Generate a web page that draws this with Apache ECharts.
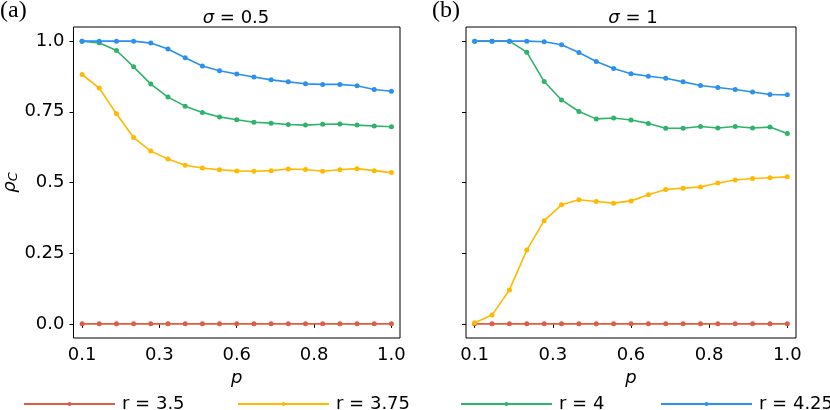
<!DOCTYPE html>
<html>
<head>
<meta charset="utf-8">
<script src="https://cdn.jsdelivr.net/npm/echarts@6/dist/echarts.min.js"></script>
<style>
  html, body { margin: 0; padding: 0; background: #fff; }
  #chart { width: 830px; height: 410px; }
</style>
</head>
<body>
<div id="chart"></div>
<script>
// p values (x)
var pVals = [0.10, 0.15, 0.20, 0.25, 0.30, 0.35, 0.40, 0.45, 0.50, 0.55,
             0.60, 0.65, 0.70, 0.75, 0.80, 0.85, 0.90, 0.95, 1.00];

// panel (a): sigma = 0.5
var aR350 = [0, 0, 0, 0, 0, 0, 0, 0, 0, 0, 0, 0, 0, 0, 0, 0, 0, 0, 0];
var aR375 = [0.882, 0.834, 0.743, 0.659, 0.611, 0.583, 0.561, 0.551, 0.545, 0.541,
             0.540, 0.542, 0.548, 0.546, 0.540, 0.545, 0.549, 0.542, 0.535];
var aR400 = [1.000, 0.994, 0.967, 0.909, 0.848, 0.802, 0.770, 0.748, 0.732, 0.722,
             0.713, 0.710, 0.705, 0.703, 0.706, 0.707, 0.703, 0.700, 0.697];
var aR425 = [1.000, 1.000, 1.000, 1.000, 0.993, 0.972, 0.941, 0.912, 0.895, 0.884,
             0.873, 0.863, 0.856, 0.849, 0.847, 0.847, 0.842, 0.829, 0.823];

// panel (b): sigma = 1
var bR350 = [0, 0, 0, 0, 0, 0, 0, 0, 0, 0, 0, 0, 0, 0, 0, 0, 0, 0, 0];
var bR375 = [0.004, 0.031, 0.120, 0.261, 0.365, 0.421, 0.439, 0.433, 0.427, 0.435,
             0.457, 0.475, 0.480, 0.484, 0.498, 0.509, 0.514, 0.517, 0.520];
var bR400 = [1.000, 1.000, 1.000, 0.961, 0.857, 0.792, 0.751, 0.725, 0.728, 0.721,
             0.709, 0.692, 0.692, 0.698, 0.693, 0.698, 0.693, 0.696, 0.673];
var bR425 = [1.000, 1.000, 1.000, 1.000, 0.998, 0.987, 0.960, 0.928, 0.903, 0.885,
             0.876, 0.869, 0.856, 0.843, 0.836, 0.829, 0.820, 0.811, 0.810];

var seriesNames = ['r = 3.5', 'r = 3.75', 'r = 4', 'r = 4.25'];
var seriesColors = ['#e15b45', '#ffb900', '#2db36b', '#2b90f0'];

var xTickVals = [0.1, 0.325, 0.55, 0.775, 1.0];
var xTickLabels = ['0.1', '0.3', '0.6', '0.8', '1.0'];
var yTickVals = [0, 0.25, 0.5, 0.75, 1.0];
var yTickLabels = ['0.0', '0.25', '0.5', '0.75', '1.0'];

var FONT = 'DejaVu Sans';
var FS = 18;

function pickLabel(vals, labels) {
  return function (v) {
    for (var i = 0; i < vals.length; i++) {
      if (Math.abs(vals[i] - v) < 1e-6) return labels[i];
    }
    return '';
  };
}

function zip(ys) {
  return pVals.map(function (p, i) { return [p, ys[i]]; });
}

function makeX(idx) {
  return {
    type: 'value', gridIndex: idx, min: 0.075, max: 1.025,
    axisLine: { show: false },
    splitLine: { show: false },
    axisTick: { show: true, length: 4, customValues: xTickVals, lineStyle: { color: '#000' } },
    axisLabel: {
      customValues: xTickVals, formatter: pickLabel(xTickVals, xTickLabels),
      color: '#000', fontFamily: FONT, fontSize: FS, margin: 8
    },
    name: 'p', nameLocation: 'middle', nameGap: 28,
    nameTextStyle: { color: '#000', fontFamily: FONT, fontSize: FS, fontStyle: 'italic' }
  };
}

function makeY(idx, showLabels) {
  var ax = {
    type: 'value', gridIndex: idx, min: -0.05, max: 1.05,
    axisLine: { show: false },
    splitLine: { show: false },
    axisTick: { show: true, length: 4, customValues: yTickVals, lineStyle: { color: '#000' } },
    axisLabel: {
      show: showLabels, customValues: yTickVals, formatter: pickLabel(yTickVals, yTickLabels),
      color: '#000', fontFamily: FONT, fontSize: FS, margin: 9
    }
  };
  if (showLabels) {
    ax.name = '{a|ρ}{b|C}';
    ax.nameLocation = 'middle';
    ax.nameGap = 52;
    ax.nameTextStyle = {
      rich: {
        a: { fontFamily: FONT, fontSize: FS, fontStyle: 'italic', color: '#000' },
        b: { fontFamily: FONT, fontSize: 13, fontStyle: 'italic', color: '#000', padding: [8, 0, 0, 0] }
      }
    };
  }
  return ax;
}

function makeSeries(idx, lists) {
  return lists.map(function (ys, k) {
    return {
      type: 'line', name: seriesNames[k], xAxisIndex: idx, yAxisIndex: idx,
      data: zip(ys), symbol: 'circle', symbolSize: 5, showSymbol: true,
      lineStyle: { width: 1.6, color: seriesColors[k] },
      itemStyle: { color: seriesColors[k] },
      emphasis: { disabled: true }, silent: true
    };
  });
}

var legendLefts = [23, 237, 460, 660];
var legends = seriesNames.map(function (n, k) {
  return {
    data: [n], left: legendLefts[k], top: 395, padding: 0,
    itemWidth: 91, itemHeight: 5, itemGap: 0,
    textStyle: { color: '#000', fontFamily: FONT, fontSize: FS, padding: [0, 0, 0, 2] },
    selectedMode: false
  };
});

var titleRich = {
  i: { fontFamily: FONT, fontSize: FS, fontStyle: 'italic', fontWeight: 'normal', color: '#000' },
  n: { fontFamily: FONT, fontSize: FS, fontWeight: 'normal', color: '#000' }
};

var chart = echarts.init(document.getElementById('chart'), null, { renderer: 'canvas' });
chart.setOption({
  backgroundColor: '#fff',
  animation: false,
  title: [
    { text: '{i|σ}{n| = 0.5}', left: 231, top: 4, textAlign: 'center',
      textStyle: { fontWeight: 'normal', rich: titleRich } },
    { text: '{i|σ}{n| = 1}', left: 628, top: 4, textAlign: 'center',
      textStyle: { fontWeight: 'normal', rich: titleRich } },
    { text: '(a)', left: 0, top: -1, padding: 0,
      textStyle: { fontFamily: 'Liberation Serif', fontSize: 24, fontWeight: 'normal', color: '#000' } },
    { text: '(b)', left: 432, top: -1, padding: 0,
      textStyle: { fontFamily: 'Liberation Serif', fontSize: 24, fontWeight: 'normal', color: '#000' } }
  ],
  legend: legends,
  grid: [
    { left: 71, top: 27, width: 329, height: 311, show: true, borderColor: '#000', borderWidth: 1, backgroundColor: 'transparent' },
    { left: 466, top: 27, width: 330, height: 311, show: true, borderColor: '#000', borderWidth: 1, backgroundColor: 'transparent' }
  ],
  xAxis: [makeX(0), makeX(1)],
  yAxis: [makeY(0, true), makeY(1, false)],
  series: makeSeries(0, [aR350, aR375, aR400, aR425]).concat(
          makeSeries(1, [bR350, bR375, bR400, bR425]))
});
</script>
</body>
</html>
